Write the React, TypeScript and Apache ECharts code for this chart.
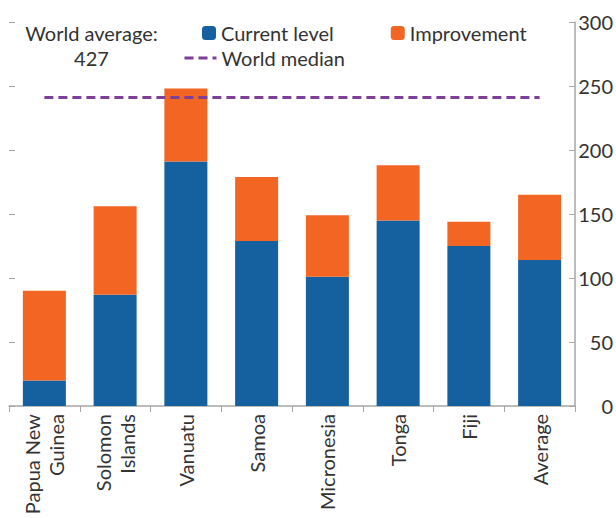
import React, { useEffect, useRef } from "react";
import * as echarts from "echarts";

const categories = ["Papua New\nGuinea", "Solomon\nIslands", "Vanuatu", "Samoa", "Micronesia", "Tonga", "Fiji", "Average"];
const currentLevel = [20, 87, 191, 129, 101, 145, 125, 114];
const improvement = [70, 69, 57, 50, 48, 43, 19, 51];
const worldMedian = [241, 241, 241, 241, 241, 241, 241, 241];
const yTicks = { min: 0, max: 300, interval: 50 };

const FONT = "Lato";
const FS = 20;
const TEXT = "#333333";
const AXIS = "#a6a6a6";

export default function App() {
  const ref = useRef<HTMLDivElement>(null);
  useEffect(() => {
    const chart = echarts.init(ref.current!, null, { renderer: "svg" });
    chart.setOption({
      animation: false,
      textStyle: { fontFamily: FONT },
      grid: { left: 9, right: 41, top: 22, bottom: 112, containLabel: false },
      legend: [
        {
          data: ["Current level", "Improvement"],
          left: 202,
          top: 23,
          itemWidth: 14,
          itemHeight: 14,
          itemGap: 57,
          textStyle: { fontSize: FS, color: TEXT, fontFamily: FONT, lineHeight: 20 },
          padding: 0,
        },
        {
          data: ["World median"],
          left: 183,
          top: 48,
          itemWidth: 32,
          itemHeight: 14,
          itemStyle: { opacity: 0 },
          lineStyle: { width: 3 },
          textStyle: { fontSize: FS, color: TEXT, fontFamily: FONT, lineHeight: 20 },
          padding: 0,
        },
      ],
      graphic: [
        {
          type: "text",
          x: 91.5,
          y: 21,
          style: {
            text: "World average:\n427",
            fontSize: FS,
            lineHeight: 24.5,
            align: "center",
            fill: TEXT,
            fontFamily: FONT,
          },
        },
      ],
      xAxis: {
        type: "category",
        data: categories,
        axisLine: { show: true, lineStyle: { color: AXIS, width: 1.5 } },
        axisTick: { show: true, length: 6, lineStyle: { color: AXIS } },
        axisLabel: { rotate: 90, fontSize: FS, color: TEXT, fontFamily: FONT, margin: 8, interval: 0, lineHeight: 24 },
      },
      yAxis: [
        {
          type: "value",
          position: "right",
          ...yTicks,
          axisLine: { show: true, lineStyle: { color: AXIS, width: 1.5 } },
          axisTick: { show: true, inside: true, length: 6, lineStyle: { color: AXIS } },
          axisLabel: { fontSize: FS, color: TEXT, fontFamily: FONT, align: "right", margin: 38 },
          splitLine: { show: false },
        },
        {
          type: "value",
          position: "left",
          ...yTicks,
          axisLine: { show: false },
          axisTick: { show: true, inside: true, length: 6, lineStyle: { color: AXIS } },
          axisLabel: { show: false },
          splitLine: { show: false },
        },
      ],
      series: [
        {
          name: "Current level",
          type: "bar",
          stack: "t",
          data: currentLevel,
          barWidth: 43,
          itemStyle: { color: "#15609f" },
        },
        {
          name: "Improvement",
          type: "bar",
          stack: "t",
          data: improvement,
          barWidth: 43,
          itemStyle: { color: "#f26522" },
        },
        {
          name: "World median",
          type: "line",
          data: worldMedian,
          symbol: "none",
          lineStyle: { color: "#7d3f98", width: 3, type: [9, 5] },
          itemStyle: { color: "#7d3f98" },
        },
      ],
    });
    return () => chart.dispose();
  }, []);
  return <div ref={ref} style={{ width: 616, height: 518, position: "absolute", left: 0, top: 0 }} />;
}
